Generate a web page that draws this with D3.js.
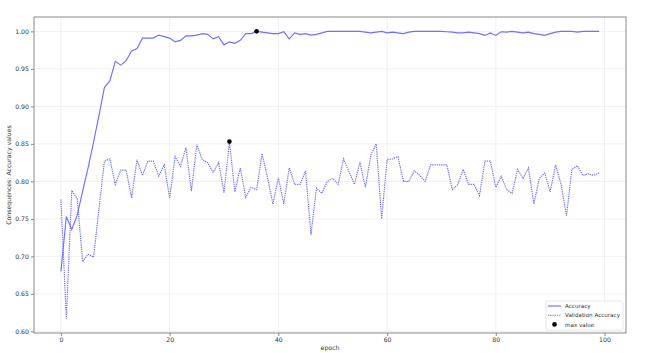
<!DOCTYPE html>
<html lang="en">
<head>
  <meta charset="UTF-8">
  <title>Accuracy vs Validation Accuracy</title>
  <style>
    body { margin: 0; padding: 0; background: #fff; }
    svg text { font-family: "DejaVu Sans", sans-serif; fill: #333; }
  </style>
</head>
<body>
<div id="chart"></div>
<script src="https://d3js.org/d3.v7.min.js"></script>
<script>
  // values, epoch 0..99
  const accuracy = [
    0.680, 0.753, 0.736, 0.755, 0.787, 0.818, 0.852, 0.888, 0.925, 0.934,
    0.960, 0.955, 0.961, 0.974, 0.977, 0.991, 0.991, 0.991, 0.995, 0.993,
    0.991, 0.986, 0.988, 0.994, 0.994, 0.995, 0.997, 0.996, 0.990, 0.993,
    0.982, 0.986, 0.984, 0.988, 0.997, 0.997, 1.000, 0.999, 0.998, 0.997,
    0.997, 0.9995, 0.990, 0.998, 0.996, 0.997, 0.995, 0.996, 0.998, 1.000,
    1.000, 1.000, 1.000, 1.000, 1.000, 1.000, 0.999, 0.998, 0.999, 1.000,
    0.998, 0.999, 0.998, 0.997, 0.999, 1.000, 1.000, 1.000, 1.000, 1.000,
    1.000, 0.9995, 0.999, 0.998, 0.998, 0.999, 0.998, 0.997, 0.9946, 0.998,
    0.9946, 0.9995, 0.999, 1.000, 0.999, 0.998, 0.999, 0.997, 0.996, 0.9946,
    0.997, 0.999, 1.000, 1.000, 1.000, 0.999, 1.000, 1.000, 1.000, 1.000
  ];
  const valAccuracy = [
    0.776, 0.617, 0.788, 0.777, 0.693, 0.703, 0.699, 0.763, 0.827, 0.830,
    0.796, 0.815, 0.815, 0.778, 0.829, 0.808, 0.827, 0.827, 0.807, 0.822,
    0.778, 0.833, 0.820, 0.845, 0.787, 0.849, 0.829, 0.825, 0.812, 0.825,
    0.785, 0.853, 0.786, 0.818, 0.779, 0.792, 0.789, 0.837, 0.805, 0.770,
    0.805, 0.770, 0.818, 0.796, 0.796, 0.814, 0.729, 0.791, 0.784, 0.800,
    0.804, 0.796, 0.830, 0.813, 0.796, 0.826, 0.792, 0.835, 0.850, 0.750,
    0.829, 0.830, 0.833, 0.800, 0.800, 0.814, 0.808, 0.800, 0.822, 0.822,
    0.822, 0.822, 0.789, 0.796, 0.816, 0.796, 0.796, 0.781, 0.827, 0.827,
    0.792, 0.807, 0.789, 0.784, 0.816, 0.804, 0.818, 0.770, 0.804, 0.811,
    0.786, 0.822, 0.796, 0.754, 0.816, 0.821, 0.808, 0.810, 0.808, 0.811
  ];
  const xTicks = [0, 20, 40, 60, 80, 100];
  const yTicks = [0.60, 0.65, 0.70, 0.75, 0.80, 0.85, 0.90, 0.95, 1.00];
  const legendLabels = ["Accuracy", "Validation Accuracy", "max value"];

  const width = 659, height = 353;
  const margin = { top: 17, right: 33, bottom: 20, left: 34 };
  const innerW = width - margin.left - margin.right;
  const innerH = height - margin.top - margin.bottom;
  const lineColor = "#7070ff";

  const svg = d3.select("#chart").append("svg")
    .attr("width", width)
    .attr("height", height);
  const g = svg.append("g")
    .attr("transform", `translate(${margin.left},${margin.top})`);

  const epochs = d3.range(accuracy.length);
  const allVals = accuracy.concat(valAccuracy);
  const yMin = d3.min(allVals), yMax = d3.max(allVals);
  const xPad = (epochs.length - 1) * 0.05, yPad = (yMax - yMin) * 0.05;

  const xScale = d3.scaleLinear().domain([-xPad, epochs.length - 1 + xPad]).range([0, innerW]);
  const yScale = d3.scaleLinear().domain([yMin - yPad, yMax + yPad]).range([innerH, 0]);

  // grid
  g.append("g").selectAll("line").data(xTicks).join("line")
    .attr("x1", d => xScale(d)).attr("x2", d => xScale(d))
    .attr("y1", 0).attr("y2", innerH)
    .attr("stroke", "#ececec").attr("stroke-width", 0.8);
  g.append("g").selectAll("line").data(yTicks).join("line")
    .attr("y1", d => yScale(d)).attr("y2", d => yScale(d))
    .attr("x1", 0).attr("x2", innerW)
    .attr("stroke", "#ececec").attr("stroke-width", 0.8);

  // axes
  const xAxis = g.append("g")
    .attr("transform", `translate(0,${innerH})`)
    .call(d3.axisBottom(xScale).tickValues(xTicks).tickSize(3).tickPadding(2).tickFormat(d3.format("d")));
  const yAxis = g.append("g")
    .call(d3.axisLeft(yScale).tickValues(yTicks).tickSize(3).tickPadding(2).tickFormat(d3.format(".2f")));
  [xAxis, yAxis].forEach(a => {
    a.select(".domain").remove();
    a.selectAll(".tick line").attr("stroke", "#555").attr("stroke-width", 0.7);
    a.selectAll(".tick text").attr("font-size", 6.2).attr("fill", "#2a2a2a")
      .style("font-family", "'DejaVu Sans', sans-serif");
  });

  // frame
  g.append("rect")
    .attr("width", innerW).attr("height", innerH)
    .attr("fill", "none").attr("stroke", "#8a8a8a").attr("stroke-width", 1);

  const line = d3.line().x((d, i) => xScale(i)).y(d => yScale(d));

  g.append("path").datum(accuracy)
    .attr("d", line).attr("fill", "none")
    .attr("stroke", lineColor).attr("stroke-width", 1.15);
  g.append("path").datum(valAccuracy)
    .attr("d", line).attr("fill", "none")
    .attr("stroke", lineColor).attr("stroke-width", 1.15)
    .attr("stroke-dasharray", "1.3,0.9");

  // max markers
  const maxPts = [accuracy, valAccuracy].map(s => {
    const i = d3.maxIndex(s);
    return { x: i, y: s[i] };
  });
  g.selectAll("circle.max").data(maxPts).join("circle")
    .attr("class", "max")
    .attr("cx", d => xScale(d.x)).attr("cy", d => yScale(d.y))
    .attr("r", 2.3).attr("fill", "#000");

  // axis labels
  svg.append("text")
    .attr("x", margin.left + innerW / 2).attr("y", 350)
    .attr("text-anchor", "middle").attr("font-size", 6.2)
    .text("epoch");
  svg.append("text")
    .attr("transform", `translate(11,${margin.top + innerH / 2}) rotate(-90)`)
    .attr("text-anchor", "middle").attr("font-size", 6.2)
    .text("Consequences: Accuracy values");

  // legend
  const lg = g.append("g").attr("transform", `translate(${innerW - 80},${innerH - 32})`);
  lg.append("rect")
    .attr("width", 77).attr("height", 29).attr("rx", 1.5)
    .attr("fill", "#fff").attr("fill-opacity", 0.8)
    .attr("stroke", "#ddd").attr("stroke-width", 0.7);
  legendLabels.forEach((lab, i) => {
    const y = 5 + i * 9.2;
    if (i < 2) {
      lg.append("line")
        .attr("x1", 2).attr("x2", 15).attr("y1", y).attr("y2", y)
        .attr("stroke", lineColor).attr("stroke-width", 1.15)
        .attr("stroke-dasharray", i === 1 ? "1.3,0.9" : null);
    } else {
      lg.append("circle").attr("cx", 8.5).attr("cy", y).attr("r", 2.3).attr("fill", "#000");
    }
    lg.append("text")
      .attr("x", 19).attr("y", y + 2.1)
      .attr("font-size", 5.6).text(lab);
  });
</script>
</body>
</html>
